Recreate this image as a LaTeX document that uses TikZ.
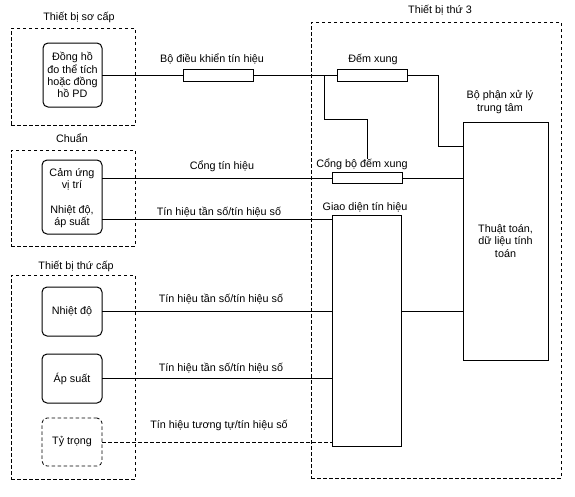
\documentclass[tikz,border=0pt]{standalone}
\usepackage{fontspec}
\setmainfont{Liberation Sans}
\begin{document}
\begin{tikzpicture}[x=1pt,y=-1pt,
  every node/.style={inner sep=0pt,outer sep=0pt,font=\fontsize{10.8}{12.2}\selectfont,align=center},
  dbox/.style={draw,dashed,dash pattern=on 3.5pt off 2.5pt,line width=0.8pt},
  rbox/.style={draw,rounded corners=5pt,line width=1pt},
  plain/.style={draw,line width=0.9pt},
  wire/.style={line width=0.9pt},
  dwire/.style={line width=0.8pt,dash pattern=on 3.5pt off 2.5pt},
  lbl/.style={}
]
\useasboundingbox (0,0) rectangle (575,496);
% dashed groups
\node[dbox,minimum width=124pt,minimum height=97pt] (prim) at (73,76.5) {};
\node[dbox,minimum width=124pt,minimum height=96pt] (std) at (73,198) {};
\node[dbox,minimum width=124pt,minimum height=204pt] (sec) at (73,377) {};
\node[dbox,minimum width=250pt,minimum height=456pt] (third) at (436,250) {};
% inner boxes
\node[rbox,minimum width=59pt,minimum height=64pt] (meter) at (72.5,75) {Đồng hồ\\đo thể tích\\hoặc đồng\\hồ PD};
\node[rbox,minimum width=60pt,minimum height=74pt] (sensor) at (72,197) {};
\node (sensA) at (72,179) {Cảm ứng\\vị trí};
\node (sensB) at (72,216.5) {Nhiệt độ,\\áp suất};
\node[rbox,minimum width=60pt,minimum height=49pt] (temp) at (72,311.5) {Nhiệt độ};
\node[rbox,minimum width=60pt,minimum height=49pt] (press) at (72,378.5) {Áp suất};
\node[rbox,dashed,dash pattern=on 3.5pt off 2.5pt,line width=0.8pt,minimum width=60pt,minimum height=48pt] (dens) at (72,442) {Tỷ trọng};
% resistor-like boxes
\node[plain,minimum width=70pt,minimum height=12pt] (ctrl) at (218,75) {};
\node[plain,minimum width=70pt,minimum height=12pt] (count) at (372,75) {};
\node[plain,minimum width=70pt,minimum height=11pt] (gate) at (367,178) {};
\node[plain,minimum width=69pt,minimum height=231pt] (iface) at (366.5,330.5) {};
\node[plain,minimum width=85pt,minimum height=238pt] (cpu) at (505.5,241) {Thuật toán,\\dữ liệu tính\\toán};
% labels
\node (tPrim) at (79,17) {Thiết bị sơ cấp};
\node (tCtrl) at (212,59) {Bộ điều khiển tín hiệu};
\node (tThird) at (440,10) {Thiết bị thứ 3};
\node (tCount) at (373,59) {Đếm xung};
\node (tCpu) at (500,102) {Bộ phận xử lý\\trung tâm};
\node (tStd) at (72,138) {Chuẩn};
\node (tGateSig) at (222,166) {Cổng tín hiệu};
\node (tGate) at (362,164) {Cổng bộ đếm xung};
\node (tIface) at (365,207) {Giao diện tín hiệu};
\node (tF1) at (219,212) {Tín hiệu tần số/tín hiệu số};
\node (tSec) at (76,266) {Thiết bị thứ cấp};
\node (tF2) at (221,299) {Tín hiệu tần số/tín hiệu số};
\node (tF3) at (221,368) {Tín hiệu tần số/tín hiệu số};
\node (tA) at (219,425) {Tín hiệu tương tự/tín hiệu số};
% junction coordinates
\coordinate (j1) at (324,75);
\coordinate (j2) at (438,146);
\coordinate (j3) at (367,119);
% connectors
\draw[wire] (meter.east) -- (ctrl.west);
\draw[wire] (ctrl.east) -- (count.west);
\draw[wire] (j1) |- (j3) -- (j3 |- tGate.north);
\draw[wire] (count.east) -| (j2) -- (cpu.west |- j2);
\draw[wire] (sensor.east |- gate.west) -- (gate.west);
\draw[wire] (gate.east) -- (cpu.west |- gate.east);
\draw[wire] (sensor.east |- 0,219) -- (iface.west |- 0,219);
\draw[wire] (temp.east) -- (iface.west |- temp.east);
\draw[wire] (iface.east |- temp.east) -- (cpu.west |- temp.east);
\draw[wire] (press.east) -- (iface.west |- press.east);
\draw[dwire] (dens.east) -- (iface.west |- dens.east);
\end{tikzpicture}
\end{document}
